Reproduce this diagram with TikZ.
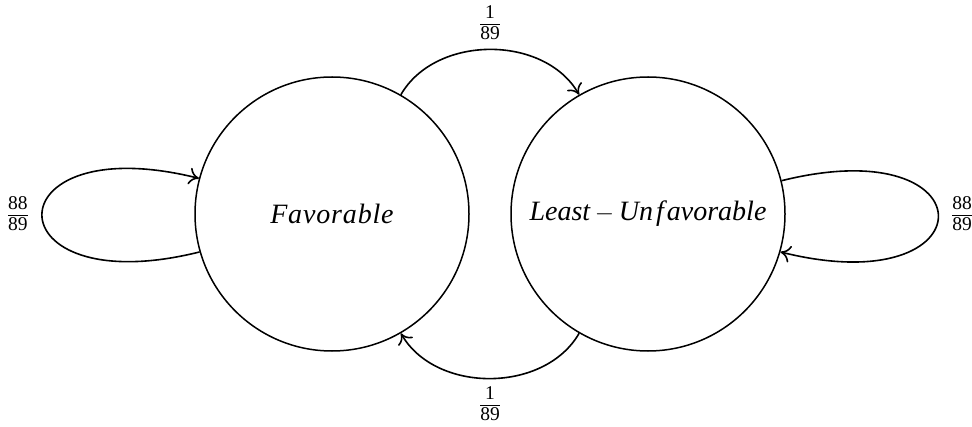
\documentclass[tikz,border=0pt]{standalone}
\usepackage{fontspec}
\setmainfont{Liberation Serif}
\usetikzlibrary{arrows.meta}
\newcommand{\myfr}[2]{$\vcenter{\hbox{\begin{tabular}{@{}c@{}}\rule[-4pt]{0pt}{0pt}#1\\[-1pt]\hline\rule{0pt}{15pt}#2\end{tabular}}}$}
\begin{document}
\begin{tikzpicture}[x=1pt,y=1pt,
  state/.style={circle,draw,line width=1.5pt,minimum size=274pt,inner sep=0pt,font=\fontsize{28}{32}\selectfont\itshape},
  edge/.style={line width=1.6pt,-{Computer Modern Rightarrow[length=10pt,width=17pt]}},
  lbl/.style={font=\fontsize{19.5}{21}\selectfont,inner sep=0pt}]
\setlength{\arrayrulewidth}{1.1pt}
\useasboundingbox (0,0) rectangle (972,426);
\node[state] (F) at (332,212) {\addfontfeatures{LetterSpace=3}Favorable};
\node[state] (U) at (648,212) {Least\,$-$\,Un\kern3pt f\kern3pt avorable};
\draw[edge] (F.60) to[out=60,in=120,looseness=1] (U.120);
\draw[edge] (U.240) to[out=240,in=300,looseness=1] (F.300);
\draw[edge] (F.196) to[out=194,in=166,distance=216pt] (F.165);
\draw[edge] (U.14) to[out=14,in=-14,distance=216pt] (U.-16);
\node[lbl] (t1) at (490,401) {\myfr{1}{89}};
\node[lbl] (t2) at (490,20) {\myfr{1}{89}};
\node[lbl] (t3) at (18,210) {\myfr{88}{89}};
\node[lbl] (t4) at (962,210) {\myfr{88}{89}};
\end{tikzpicture}
\end{document}
